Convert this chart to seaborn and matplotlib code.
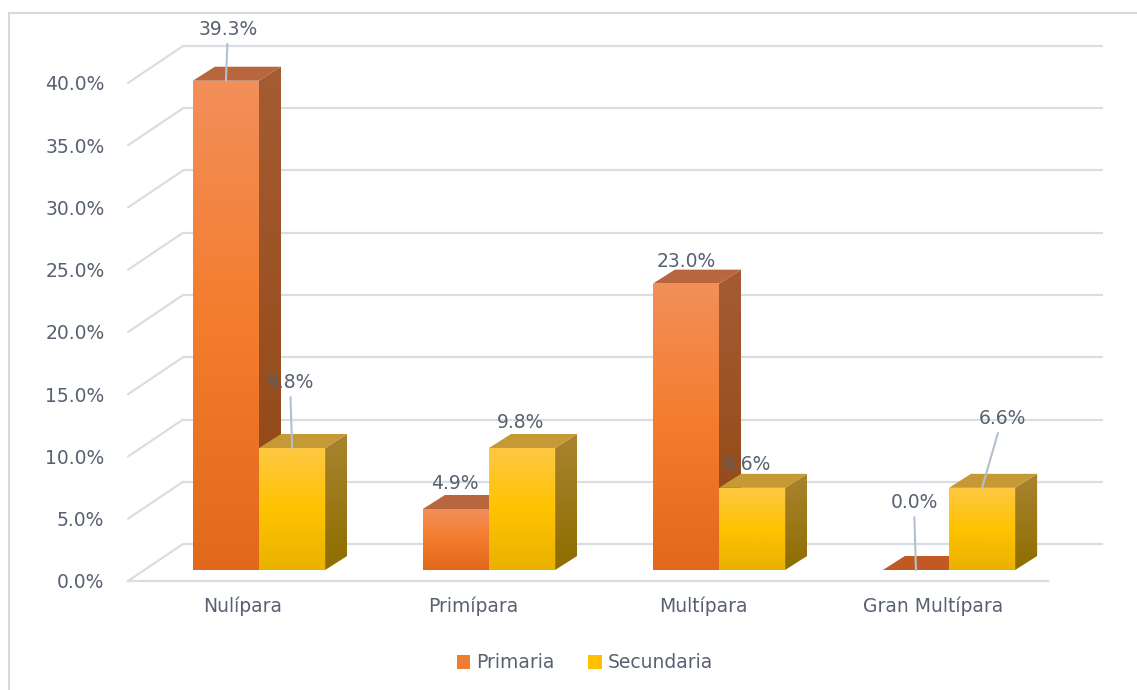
import numpy as np
import pandas as pd
import matplotlib
matplotlib.use('Agg')
import matplotlib.pyplot as plt
import seaborn as sns
from matplotlib.patches import Polygon
from matplotlib.colors import LinearSegmentedColormap
from matplotlib.lines import Line2D
from matplotlib.transforms import ScaledTranslation
from matplotlib.ticker import FuncFormatter

# datos
categorias = ['Nulípara', 'Primípara', 'Multípara', 'Gran Multípara']
series = ['Primaria', 'Secundaria']
primaria = [39.3, 4.9, 23.0, 0.0]
secundaria = [9.8, 9.8, 6.6, 6.6]
yticks = [0, 5, 10, 15, 20, 25, 30, 35, 40]

# posicion de las etiquetas (px respecto a la cara superior) y si llevan linea guia
label_offsets = [[(2, 51, True), (-1, 25, False), (0, 22, False), (-2, 67, True)],
                 [(-2, 65, True), (-1, 25, False), (-5, 23, False), (20, 69, True)]]

# colores de las caras (abajo -> arriba)
estilos = [dict(front=['#E2691C', '#F47C2C', '#F28F5A'], side=['#8F4612', '#A65C33'], top='#B7663D',
                floor='#C05A22'),
           dict(front=['#E9B200', '#FFC300', '#FEC844'], side=['#8E6D00', '#A98430'], top='#C59A36',
                floor='#C59A36')]
text_color = '#586171'
grid_color = '#dadde2'

df = pd.DataFrame({
    'Paridad': categorias * 2,
    'Porcentaje': primaria + secundaria,
    'Nivel': [series[0]] * 4 + [series[1]] * 4,
})

sns.set_style('white')
plt.rcParams['font.family'] = ['DejaVu Sans']
FS = 13.5

W, H = 1137, 690
PX_Y = 12.45   # px por punto porcentual
YMAX = 43
fig = plt.figure(figsize=(W / 100, H / 100), dpi=100)
ax = fig.add_axes([128 / W, (H - 581) / H, 920 / W, YMAX * PX_Y / H])
sns.barplot(data=df, x='Paridad', y='Porcentaje', hue='Nivel', palette=['#ED7D31', '#FFC000'],
            saturation=1, width=0.575, linewidth=0, ax=ax)
ax.set_xlim(-0.5, 3.5)
ax.set_ylim(0, YMAX)
ax.patch.set_visible(False)


def shift(x, y, dx, dy):
    px, py = ax.transData.transform((x, y))
    return tuple(ax.transData.inverted().transform((px + dx, py + dy)))


def degradado(verts, colores, z):
    poly = Polygon(verts, closed=True, facecolor='none', edgecolor='none')
    ax.add_patch(poly)
    xs = [v[0] for v in verts]
    ys = [v[1] for v in verts]
    cmap = LinearSegmentedColormap.from_list('g', colores)
    im = ax.imshow(np.linspace(0, 1, 128).reshape(-1, 1), cmap=cmap, origin='lower', aspect='auto',
                   extent=[min(xs), max(xs), min(ys), max(ys)], interpolation='bilinear', zorder=z)
    im.set_clip_path(poly)


BAR = (16, 11)    # plano de las barras respecto al frente
DEPTH = (22, 14)  # profundidad de cada barra
WALL = (55, 37)   # pared del fondo

valores = [primaria, secundaria]
for i, cont in enumerate(ax.containers[:2]):
    st = estilos[i]
    for j, bar in enumerate(cont):
        x0, y0 = shift(bar.get_x(), 0, *BAR)
        w, h = bar.get_width(), bar.get_height()
        x1, y1 = x0 + w, y0 + h
        bar.set_x(x0)
        bar.set_y(y0)
        bar.set_zorder(2 + i + 0.05)
        z = 2 + i
        if h > 0:
            side = [(x1, y0), (x1, y1), shift(x1, y1, *DEPTH), shift(x1, y0, *DEPTH)]
            degradado(side, st['side'], z)
            degradado([(x0, y0), (x1, y0), (x1, y1), (x0, y1)], st['front'], z + 0.1)
        top = [(x0, y1), (x1, y1), shift(x1, y1, *DEPTH), shift(x0, y1, *DEPTH)]
        ax.add_patch(Polygon(top, closed=True, facecolor=st['top'] if h > 0 else st['floor'],
                             edgecolor='none', zorder=z + 0.02))

        dx, dy, guia = label_offsets[i][j]
        ax.annotate(f'{valores[i][j]:.1f}%', xy=((x0 + x1) / 2, y1), xytext=(dx, dy),
                    textcoords='offset pixels', ha='center', va='center', fontsize=FS,
                    color=text_color, annotation_clip=False, zorder=10,
                    arrowprops=dict(arrowstyle='-', color='#b4c0cf', lw=1.5, shrinkA=1, shrinkB=0)
                    if guia else None)

# rejilla de la pared del fondo y lineas diagonales
x_lo, x_hi = ax.get_xlim()
wall = ScaledTranslation(WALL[0] / 100, WALL[1] / 100, fig.dpi_scale_trans)
ax.hlines(yticks, x_lo, x_hi, transform=ax.transData + wall, colors=grid_color, lw=1.6,
          zorder=0.5, clip_on=False)
for t in yticks:
    xb, yb = shift(x_lo, t, *WALL)
    ax.plot([x_lo, xb], [t, yb], color=grid_color, lw=1.6, zorder=0.5, clip_on=False)

ax.set_xlim(x_lo, x_hi)
ax.set_ylim(0, YMAX)
ax.set_yticks(yticks)
ax.yaxis.set_major_formatter(FuncFormatter(lambda v, _: f'{v:.1f}%'))
ax.tick_params(axis='y', length=0, pad=17, labelsize=FS, labelcolor=text_color)
ax.tick_params(axis='x', length=0, pad=11, labelsize=FS, labelcolor=text_color)
ax.set_xlabel('')
ax.set_ylabel('')
for s in ['top', 'right', 'left']:
    ax.spines[s].set_visible(False)
ax.spines['bottom'].set_color(grid_color)
ax.spines['bottom'].set_linewidth(1.6)

sns.move_legend(ax, 'center', bbox_to_anchor=(585 / W, 27 / H), bbox_transform=fig.transFigure,
                ncol=2, frameon=False, title=None, fontsize=FS, handlelength=0.7, handleheight=0.7,
                handletextpad=0.35, columnspacing=1.8, labelcolor=text_color)

# borde del grafico
fig.add_artist(Line2D([9 / W, 9 / W], [0, (H - 13) / H], transform=fig.transFigure,
                      color='#d9d9d9', lw=1.5))
fig.add_artist(Line2D([9 / W, 1], [(H - 13) / H, (H - 13) / H], transform=fig.transFigure,
                      color='#d9d9d9', lw=1.5))

fig.savefig('out.png', dpi=100, facecolor='white')
